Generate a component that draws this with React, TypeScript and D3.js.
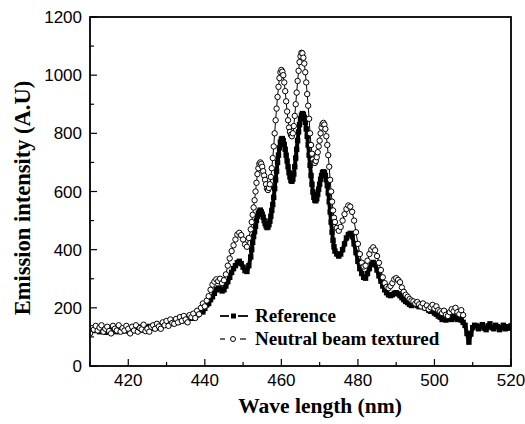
import React from "react";
import * as d3 from "d3";

// [wavelength (nm), intensity (A.U)]
const referenceSeries: [number, number][] = [
  [410,118],[410.5,128],[411,122],[411.5,130],[412,125],[412.5,118],[413,126],[413.5,120],[414,116],[414.5,124],
  [415,128],[415.5,120],[416,125],[416.5,130],[417,118],[417.5,122],[418,128],[418.5,120],[419,124],[419.5,132],
  [420,120],[420.5,116],[421,126],[421.5,130],[422,122],[422.5,128],[423,134],[423.5,124],[424,126],[424.5,132],
  [425,128],[425.5,136],[426,130],[426.5,134],[427,138],[427.5,132],[428,140],[428.5,136],[429,142],[429.5,145],
  [430,140],[430.5,148],[431,146],[431.5,152],[432,148],[432.5,156],[433,150],[433.5,158],[434,155],[434.5,162],
  [435,158],[435.5,166],[436,170],[436.5,164],[437,172],[437.5,178],[438,176],[438.5,185],[439,190],[439.5,186],
  [440,198],[440.5,210],[441,215],[441.5,228],[442,238],[442.5,250],[443,262],[443.5,268],[444,265],[444.5,258],
  [445,262],[445.5,275],[446,290],[446.5,305],[447,322],[447.5,335],[448,345],[448.5,355],[449,360],[449.5,352],
  [450,340],[450.5,328],[451,325],[451.5,345],[452,375],[452.25,400],[452.5,425],[452.75,445],[453,462],[453.25,480],
  [453.5,500],[453.75,515],[454,525],[454.25,532],[454.5,536],[454.75,530],[455,522],[455.25,512],[455.5,500],[455.75,490],
  [456,482],[456.25,476],[456.5,478],[456.75,486],[457,498],[457.25,515],[457.5,535],[457.75,555],[458,580],[458.25,610],
  [458.5,640],[458.75,670],[459,700],[459.25,725],[459.5,750],[459.75,770],[460,780],[460.25,782],[460.5,775],[460.75,762],
  [461,745],[461.25,725],[461.5,705],[461.75,685],[462,665],[462.25,650],[462.5,638],[462.75,635],[463,642],[463.25,660],
  [463.5,685],[463.75,715],[464,745],[464.25,775],[464.5,805],[464.75,830],[465,850],[465.25,862],[465.5,868],[465.75,865],
  [466,855],[466.25,838],[466.5,815],[466.75,790],[467,760],[467.25,725],[467.5,690],[467.75,655],[468,625],[468.25,598],
  [468.5,580],[468.75,570],[469,568],[469.25,575],[469.5,590],[469.75,608],[470,625],[470.25,642],[470.5,655],[470.75,665],
  [471,668],[471.25,665],[471.5,655],[471.75,640],[472,620],[472.25,595],[472.5,565],[472.75,530],[473,495],[473.25,460],
  [473.5,432],[473.75,410],[474,395],[474.5,385],[475,378],[475.5,385],[476,400],[476.5,420],[477,440],[477.5,452],
  [478,456],[478.5,445],[479,420],[479.5,390],[480,360],[480.5,335],[481,318],[481.5,305],[482,302],[482.5,318],
  [483,335],[483.5,350],[484,356],[484.5,348],[485,330],[485.5,310],[486,292],[486.5,275],[487,262],[487.5,252],
  [488,245],[488.5,242],[489,245],[489.5,250],[490,252],[490.5,248],[491,242],[491.5,235],[492,228],[492.5,222],
  [493,218],[493.5,212],[494,208],[494.5,214],[495,216],[495.5,208],[496,204],[496.5,212],[497,210],[497.5,200],
  [498,198],[498.5,192],[499,188],[499.5,190],[500,182],[500.5,178],[501,172],[501.5,168],[502,160],[502.5,165],
  [503,158],[503.5,162],[504,168],[504.5,160],[505,170],[505.5,165],[506,160],[506.5,168],[507,158],[507.5,150],
  [508,140],[508.5,112],[509,82],[509.5,110],[510,132],[510.5,140],[511,138],[511.5,128],[512,135],[512.5,142],
  [513,130],[513.5,125],[514,138],[514.5,145],[515,132],[515.5,128],[516,140],[516.5,135],[517,125],[517.5,132],
  [518,140],[518.5,128],[519,135],[519.5,130],[520,138],
];

const neutralSeries: [number, number][] = [
  [410,112],[410.5,130],[411,125],[411.5,138],[412,122],[412.5,132],[413,140],[413.5,118],[414,128],[414.5,135],
  [415,120],[415.5,112],[416,138],[416.5,128],[417,122],[417.5,140],[418,118],[418.5,130],[419,122],[419.5,138],
  [420,128],[420.5,112],[421,135],[421.5,122],[422,140],[422.5,118],[423,130],[423.5,126],[424,142],[424.5,120],
  [425,128],[425.5,118],[426,135],[426.5,140],[427,128],[427.5,145],[428,136],[428.5,128],[429,150],[429.5,140],
  [430,155],[430.5,138],[431,160],[431.5,148],[432,145],[432.5,162],[433,150],[433.5,168],[434,155],[434.5,172],
  [435,160],[435.5,150],[436,175],[436.5,168],[437,180],[437.5,165],[438,190],[438.5,178],[439,200],[439.5,215],
  [440,205],[440.5,225],[441,240],[441.5,262],[442,280],[442.5,290],[443,298],[443.5,292],[444,300],[444.5,285],
  [445,295],[445.5,315],[446,345],[446.5,370],[447,395],[447.5,415],[448,435],[448.5,452],[449,458],[449.5,450],
  [450,435],[450.5,418],[451,410],[451.5,440],[452,470],[452.25,495],[452.5,520],[452.75,545],[453,570],[453.25,600],
  [453.5,630],[453.75,660],[454,680],[454.25,695],[454.5,700],[454.75,695],[455,685],[455.25,670],[455.5,655],[455.75,640],
  [456,625],[456.25,610],[456.5,605],[456.75,612],[457,625],[457.25,650],[457.5,680],[457.75,715],[458,755],[458.25,800],
  [458.5,845],[458.75,885],[459,925],[459.25,960],[459.5,990],[459.75,1010],[460,1018],[460.25,1012],[460.5,1000],[460.75,975],
  [461,945],[461.25,910],[461.5,875],[461.75,845],[462,820],[462.25,805],[462.5,795],[462.75,790],[463,800],[463.25,825],
  [463.5,860],[463.75,900],[464,940],[464.25,980],[464.5,1015],[464.75,1045],[465,1065],[465.25,1077],[465.5,1075],[465.75,1060],
  [466,1040],[466.25,1010],[466.5,975],[466.75,935],[467,895],[467.25,850],[467.5,800],[467.75,760],[468,730],[468.25,710],
  [468.5,700],[468.75,698],[469,705],[469.25,718],[469.5,735],[469.75,755],[470,775],[470.25,800],[470.5,820],[470.75,832],
  [471,836],[471.25,830],[471.5,815],[471.75,790],[472,760],[472.25,725],[472.5,685],[472.75,640],[473,600],[473.25,565],
  [473.5,535],[473.75,510],[474,495],[474.5,475],[475,465],[475.5,478],[476,500],[476.5,522],[477,540],[477.5,552],
  [478,548],[478.5,530],[479,500],[479.5,460],[480,420],[480.5,385],[481,355],[481.5,342],[482,345],[482.5,362],
  [483,385],[483.5,400],[484,408],[484.5,398],[485,378],[485.5,355],[486,330],[486.5,305],[487,285],[487.5,272],
  [488,268],[488.5,275],[489,285],[489.5,298],[490,302],[490.5,296],[491,288],[491.5,270],[492,255],[492.5,245],
  [493,238],[493.5,230],[494,225],[494.5,222],[495,215],[495.5,220],[496,212],[496.5,205],[497,215],[497.5,200],
  [498,208],[498.5,195],[499,202],[499.5,210],[500,198],[500.5,205],[501,192],[501.5,188],[502,182],[502.5,190],
  [503,176],[503.5,172],[504,185],[504.5,195],[505,188],[505.5,200],[506,185],[506.5,178],[507,192],[507.5,175],
];

const xTicks = [420, 440, 460, 480, 500, 520];
const xMinorTicks = [410, 430, 450, 470, 490, 510];
const yTicks = [0, 200, 400, 600, 800, 1000, 1200];
const yMinorTicks = [100, 300, 500, 700, 900, 1100];
const legendLabels = ["Reference", "Neutral beam textured"];

const W = 525;
const H = 424;
const left = 90, right = 511, top = 17, bottom = 366;

export default function App() {
  const x = d3.scaleLinear().domain([410, 520]).range([left, right]);
  const y = d3.scaleLinear().domain([0, 1200]).range([bottom, top]);
  const line = d3
    .line<[number, number]>()
    .x((d) => x(d[0]))
    .y((d) => y(d[1]));

  const tickFont = "'Liberation Sans', Arial, sans-serif";
  const serif = "'Liberation Serif', 'Times New Roman', serif";

  return (
    <svg
      width={W}
      height={H}
      style={{ position: "absolute", left: 0, top: 0, background: "#fff" }}
    >
      <defs>
        <clipPath id="plot">
          <rect x={left} y={top} width={right - left} height={bottom - top} />
        </clipPath>
      </defs>
      <rect x={0} y={0} width={W} height={H} fill="#fff" />

      <g clipPath="url(#plot)">
        <path d={line(referenceSeries) || ""} fill="none" stroke="#000" strokeWidth={4} strokeLinejoin="round" />
        {referenceSeries.map((d, i) => (
          <rect key={"r" + i} x={x(d[0]) - 2.7} y={y(d[1]) - 2.7} width={5.4} height={5.4} fill="#000" />
        ))}
        <path d={line(neutralSeries) || ""} fill="none" stroke="#000" strokeWidth={1} />
        {neutralSeries.map((d, i) => (
          <circle key={"n" + i} cx={x(d[0])} cy={y(d[1])} r={2.7} fill="#fff" stroke="#000" strokeWidth={1} />
        ))}
      </g>

      {/* frame */}
      <rect x={left} y={top} width={right - left} height={bottom - top} fill="none" stroke="#000" strokeWidth={1.8} />

      {/* x ticks */}
      {xTicks.map((t) => (
        <g key={"xt" + t}>
          <line x1={x(t)} x2={x(t)} y1={bottom} y2={bottom - 7} stroke="#000" strokeWidth={1.2} />
          <text x={x(t)} y={386} textAnchor="middle" fontFamily={tickFont} fontSize={17}>
            {t}
          </text>
        </g>
      ))}
      {xMinorTicks.map((t) => (
        <line key={"xm" + t} x1={x(t)} x2={x(t)} y1={bottom} y2={bottom - 4} stroke="#000" strokeWidth={1.2} />
      ))}

      {/* y ticks */}
      {yTicks.map((t) => (
        <g key={"yt" + t}>
          <line x1={left} x2={left + 7} y1={y(t)} y2={y(t)} stroke="#000" strokeWidth={1.2} />
          <text x={82} y={y(t) + 6} textAnchor="end" fontFamily={tickFont} fontSize={17}>
            {t}
          </text>
        </g>
      ))}
      {yMinorTicks.map((t) => (
        <line key={"ym" + t} x1={left} x2={left + 4} y1={y(t)} y2={y(t)} stroke="#000" strokeWidth={1.2} />
      ))}

      {/* axis titles */}
      <text x={320} y={413} textAnchor="middle" fontFamily={serif} fontWeight="bold" fontSize={21.5}>
        Wave length (nm)
      </text>
      <text
        transform={`translate(30, 198) rotate(-90)`}
        textAnchor="middle"
        fontFamily={serif}
        fontWeight="bold"
        fontSize={22.5}
      >
        Emission intensity (A.U)
      </text>

      {/* legend */}
      <g>
        <line x1={220} x2={229} y1={316} y2={316} stroke="#000" strokeWidth={1.8} />
        <rect x={231} y={313.5} width={5} height={5} fill="#000" />
        <line x1={238} x2={248} y1={316} y2={316} stroke="#000" strokeWidth={1.8} />
        <text x={255} y={322} fontFamily={serif} fontWeight="bold" fontSize={19}>
          {legendLabels[0]}
        </text>
        <line x1={220} x2={225} y1={339} y2={339} stroke="#000" strokeWidth={1.2} />
        <circle cx={233} cy={339} r={2.5} fill="#fff" stroke="#000" strokeWidth={1} />
        <line x1={240} x2={246} y1={339} y2={339} stroke="#000" strokeWidth={1.2} />
        <text x={255} y={345} fontFamily={serif} fontWeight="bold" fontSize={19}>
          {legendLabels[1]}
        </text>
      </g>
    </svg>
  );
}
